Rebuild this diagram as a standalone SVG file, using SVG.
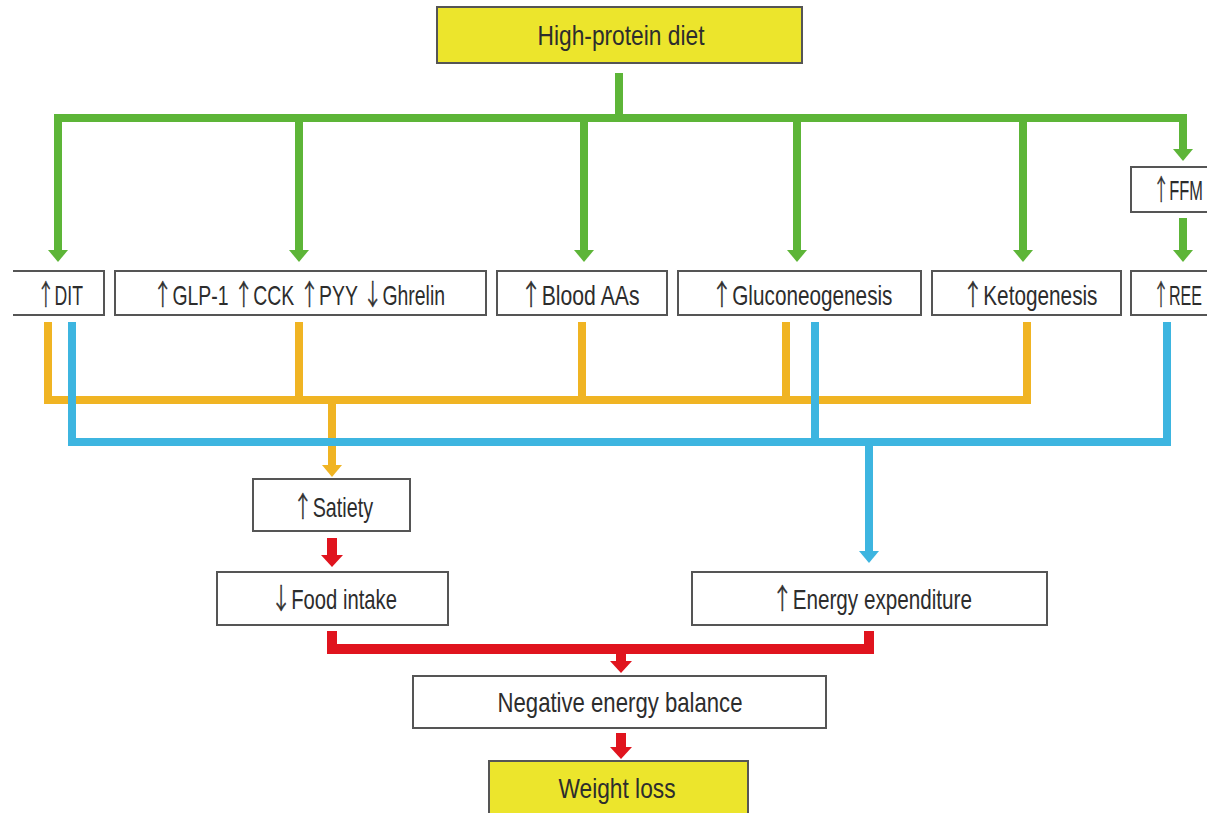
<svg xmlns="http://www.w3.org/2000/svg" width="1207" height="813" viewBox="0 0 1207 813">
<style>
.box{fill:#fff;stroke:#555;stroke-width:2}
.yel{fill:#ECE52C;stroke:#555;stroke-width:2}
text{font-family:"Liberation Sans",Arial,sans-serif;font-size:28px;fill:#2d2d2d;text-anchor:middle}
.a{font-family:"Noto Sans CJK SC","DejaVu Sans",sans-serif;font-weight:300;fill:#2d2d2d;stroke:#2d2d2d;stroke-width:0.6}
.g{stroke:#5DB538;stroke-width:8;fill:none}
.o{stroke:#F0B423;stroke-width:8;fill:none}
.b{stroke:#3DB5E0;stroke-width:8;fill:none}
.r{stroke:#E0141E;stroke-width:10;fill:none}
.gh{fill:#5DB538}.oh{fill:#F0B423}.bh{fill:#3DB5E0}.rh{fill:#E0141E}
</style>
<rect width="1207" height="813" fill="#fff"/>
<g id="connectors">
  <path class="g" d="M619,73 V118"/>
  <path class="g" d="M58,251 V118 H1183 V150" stroke-linejoin="miter"/>
  <path class="g" d="M299,118 V251"/>
  <path class="g" d="M584,118 V251"/>
  <path class="g" d="M797,118 V251"/>
  <path class="g" d="M1023,118 V251"/>
  <path class="g" d="M1183,218 V251"/>
  <polygon class="gh" points="48,250 68,250 58,262"/>
  <polygon class="gh" points="289,250 309,250 299,262"/>
  <polygon class="gh" points="574,250 594,250 584,262"/>
  <polygon class="gh" points="787,250 807,250 797,262"/>
  <polygon class="gh" points="1013,250 1033,250 1023,262"/>
  <polygon class="gh" points="1173,149 1193,149 1183,161"/>
  <polygon class="gh" points="1173,250 1193,250 1183,262"/>
  <path class="o" d="M48,322 V400 H1027 V322"/>
  <path class="o" d="M299,322 V400"/>
  <path class="o" d="M582,322 V400"/>
  <path class="o" d="M786,322 V400"/>
  <path class="o" d="M332,400 V466"/>
  <polygon class="oh" points="322,465 342,465 332,477"/>
  <path class="b" d="M72,322 V442 H1167 V322"/>
  <path class="b" d="M815,322 V442"/>
  <path class="b" d="M869,442 V552"/>
  <polygon class="bh" points="859,551 879,551 869,563"/>
  <path class="r" d="M332,538 V556"/>
  <polygon class="rh" points="321,555 343,555 332,567"/>
  <path class="r" d="M332,631 V649 H869 V631"/>
  <path class="r" d="M621,649 V662"/>
  <polygon class="rh" points="610,661 632,661 621,673"/>
  <path class="r" d="M621,733 V748"/>
  <polygon class="rh" points="610,747 632,747 621,759"/>
</g>
<g id="n-diet"><rect class="yel" x="437" y="7" width="365" height="56"/><text x="621" y="45" textLength="167" lengthAdjust="spacingAndGlyphs">High-protein diet</text></g>
<g id="n-ffm"><rect class="box" x="1131" y="167" width="100" height="45"/><text x="1153" y="200" style="text-anchor:start" textLength="50" lengthAdjust="spacingAndGlyphs"><tspan class="a">↑</tspan>FFM</text></g>
<g id="n-dit"><path class="box" d="M13,271 H104 V315 H13"/><text x="60" y="305" textLength="46" lengthAdjust="spacingAndGlyphs"><tspan class="a">↑</tspan>DIT</text></g>
<g id="n-glp"><rect class="box" x="115" y="271" width="371" height="44"/><text x="299" y="305" textLength="292" lengthAdjust="spacingAndGlyphs"><tspan class="a">↑</tspan>GLP-1 <tspan class="a">↑</tspan>CCK <tspan class="a">↑</tspan>PYY <tspan class="a">↓</tspan>Ghrelin</text></g>
<g id="n-aas"><rect class="box" x="497" y="271" width="170" height="44"/><text x="580" y="305" textLength="119" lengthAdjust="spacingAndGlyphs"><tspan class="a">↑</tspan>Blood AAs</text></g>
<g id="n-gluco"><rect class="box" x="678" y="271" width="243" height="44"/><text x="802" y="305" textLength="181" lengthAdjust="spacingAndGlyphs"><tspan class="a">↑</tspan>Gluconeogenesis</text></g>
<g id="n-keto"><rect class="box" x="932" y="271" width="189" height="44"/><text x="1030" y="305" textLength="135" lengthAdjust="spacingAndGlyphs"><tspan class="a">↑</tspan>Ketogenesis</text></g>
<g id="n-ree"><rect class="box" x="1131" y="271" width="100" height="44"/><text x="1153" y="305" style="text-anchor:start" textLength="49" lengthAdjust="spacingAndGlyphs"><tspan class="a">↑</tspan>REE</text></g>
<g id="n-satiety"><rect class="box" x="253" y="479" width="157" height="52"/><text x="333" y="517" textLength="80" lengthAdjust="spacingAndGlyphs"><tspan class="a">↑</tspan>Satiety</text></g>
<g id="n-food"><rect class="box" x="217" y="572" width="231" height="53"/><text x="334" y="609" textLength="126" lengthAdjust="spacingAndGlyphs"><tspan class="a">↓</tspan>Food intake</text></g>
<g id="n-energy"><rect class="box" x="692" y="572" width="355" height="53"/><text x="872" y="609" textLength="200" lengthAdjust="spacingAndGlyphs"><tspan class="a">↑</tspan>Energy expenditure</text></g>
<g id="n-neg"><rect class="box" x="413" y="676" width="413" height="52"/><text x="620" y="712" textLength="245" lengthAdjust="spacingAndGlyphs">Negative energy balance</text></g>
<g id="n-loss"><rect class="yel" x="489" y="761" width="259" height="60"/><text x="617" y="798" textLength="117" lengthAdjust="spacingAndGlyphs">Weight loss</text></g>
</svg>
